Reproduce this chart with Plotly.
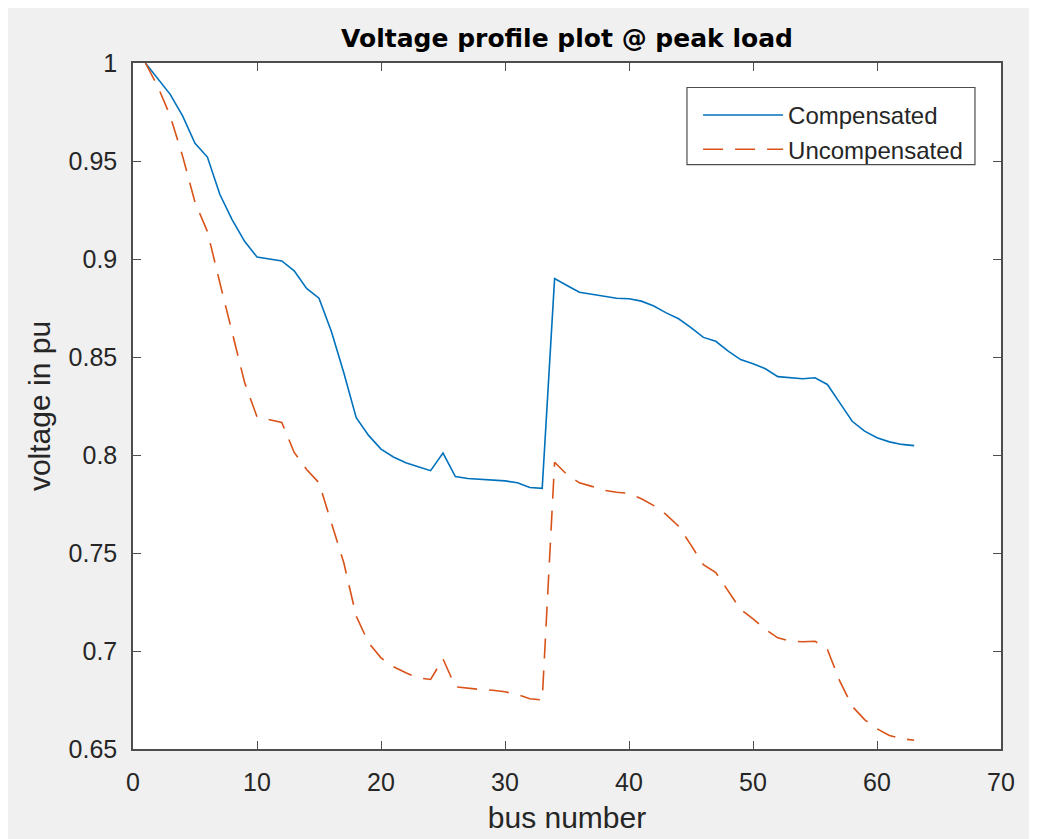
import plotly.graph_objects as go

bus = list(range(1, 64))

compensated = [
    1.000, 0.992, 0.984, 0.973, 0.959, 0.952, 0.933, 0.920, 0.909, 0.901,
    0.900, 0.899, 0.894, 0.885, 0.880, 0.863, 0.842, 0.819, 0.810, 0.803,
    0.799, 0.796, 0.794, 0.792, 0.801, 0.789, 0.788, 0.7875, 0.7872, 0.7868,
    0.7858, 0.7834, 0.783, 0.890, 0.8865, 0.883, 0.882, 0.881, 0.880, 0.8797,
    0.8785, 0.876, 0.8725, 0.8695, 0.865, 0.860, 0.858, 0.853, 0.8487, 0.8465,
    0.844, 0.840, 0.8394, 0.8389, 0.8394, 0.836, 0.8266, 0.8172, 0.8122, 0.8088,
    0.8067, 0.8054, 0.8048,
]

uncompensated = [
    1.000, 0.988, 0.973, 0.9525, 0.929, 0.914, 0.888, 0.8625, 0.837, 0.8195,
    0.818, 0.8166, 0.8013, 0.7926, 0.7858, 0.7654, 0.745, 0.7178, 0.7042, 0.6965,
    0.692, 0.6889, 0.6863, 0.6855, 0.696, 0.6817, 0.681, 0.6804, 0.680, 0.6792,
    0.6778, 0.6756, 0.675, 0.7963, 0.790, 0.7858, 0.784, 0.782, 0.781, 0.7804,
    0.7777, 0.7742, 0.7696, 0.7637, 0.754, 0.744, 0.740, 0.7305, 0.7212, 0.7164,
    0.711, 0.7067, 0.705, 0.7047, 0.705, 0.7008, 0.6846, 0.6718, 0.665, 0.6603,
    0.6569, 0.6552, 0.6545,
]

x_ticks = [0, 10, 20, 30, 40, 50, 60, 70]
y_ticks = [0.65, 0.7, 0.75, 0.8, 0.85, 0.9, 0.95, 1.0]
y_tick_text = ["0.65", "0.7", "0.75", "0.8", "0.85", "0.9", "0.95", "1"]

FONT = "Liberation Sans, Arial, Helvetica, sans-serif"
TITLE_FONT = "DejaVu Sans, Liberation Sans, Arial, sans-serif"
AXIS_COLOR = "#4d4d4d"
TEXT_COLOR = "#262626"

fig = go.Figure()
fig.add_trace(go.Scatter(
    x=bus, y=compensated, mode="lines", name="Compensated",
    line=dict(color="#0072BD", width=1.6),
))
fig.add_trace(go.Scatter(
    x=bus, y=uncompensated, mode="lines", name="Uncompensated",
    line=dict(color="#D95319", width=1.6, dash="20px,12px"),
))

axis_common = dict(
    showgrid=False, zeroline=False, showline=True, linecolor=AXIS_COLOR,
    linewidth=1.5, mirror="ticks", ticks="inside", ticklen=8,
    tickcolor=AXIS_COLOR, tickwidth=1.2, automargin=False,
    tickfont=dict(family=FONT, size=25, color=TEXT_COLOR),
)

# legend frame (drawn under the traces, in paper coordinates)
fig.add_shape(
    type="rect", xref="paper", yref="paper",
    x0=0.6382, x1=0.970, y0=0.852, y1=0.9643,
    line=dict(color=AXIS_COLOR, width=1.2), fillcolor="white", layer="below",
)

fig.update_layout(
    width=1029, height=831,
    paper_bgcolor="#f0f0f0", plot_bgcolor="white",
    margin=dict(l=125, r=36, t=55, b=90, autoexpand=False),
    title=dict(
        text="<b>Voltage profile plot @ peak load</b>",
        x=0.5, xref="paper", xanchor="center",
        y=0.964, yref="container", yanchor="middle",
        font=dict(family=TITLE_FONT, size=25, color="black"),
    ),
    xaxis=dict(
        range=[0, 70], tickvals=x_ticks, ticklabelstandoff=10,
        title=dict(text="bus number", font=dict(family=FONT, size=30, color=TEXT_COLOR), standoff=12),
        **axis_common,
    ),
    yaxis=dict(
        range=[0.65, 1.0], tickvals=y_ticks, ticktext=y_tick_text, ticklabelstandoff=9,
        title=dict(text="voltage in pu", font=dict(family=FONT, size=30, color=TEXT_COLOR), standoff=9),
        **axis_common,
    ),
    legend=dict(
        x=0.651, y=0.9564, xanchor="left", yanchor="top",
        bgcolor="rgba(0,0,0,0)", borderwidth=0,
        font=dict(family=FONT, size=24, color=TEXT_COLOR),
        itemwidth=80, tracegroupgap=0,
    ),
    showlegend=True,
)

fig.write_html("out.html")
